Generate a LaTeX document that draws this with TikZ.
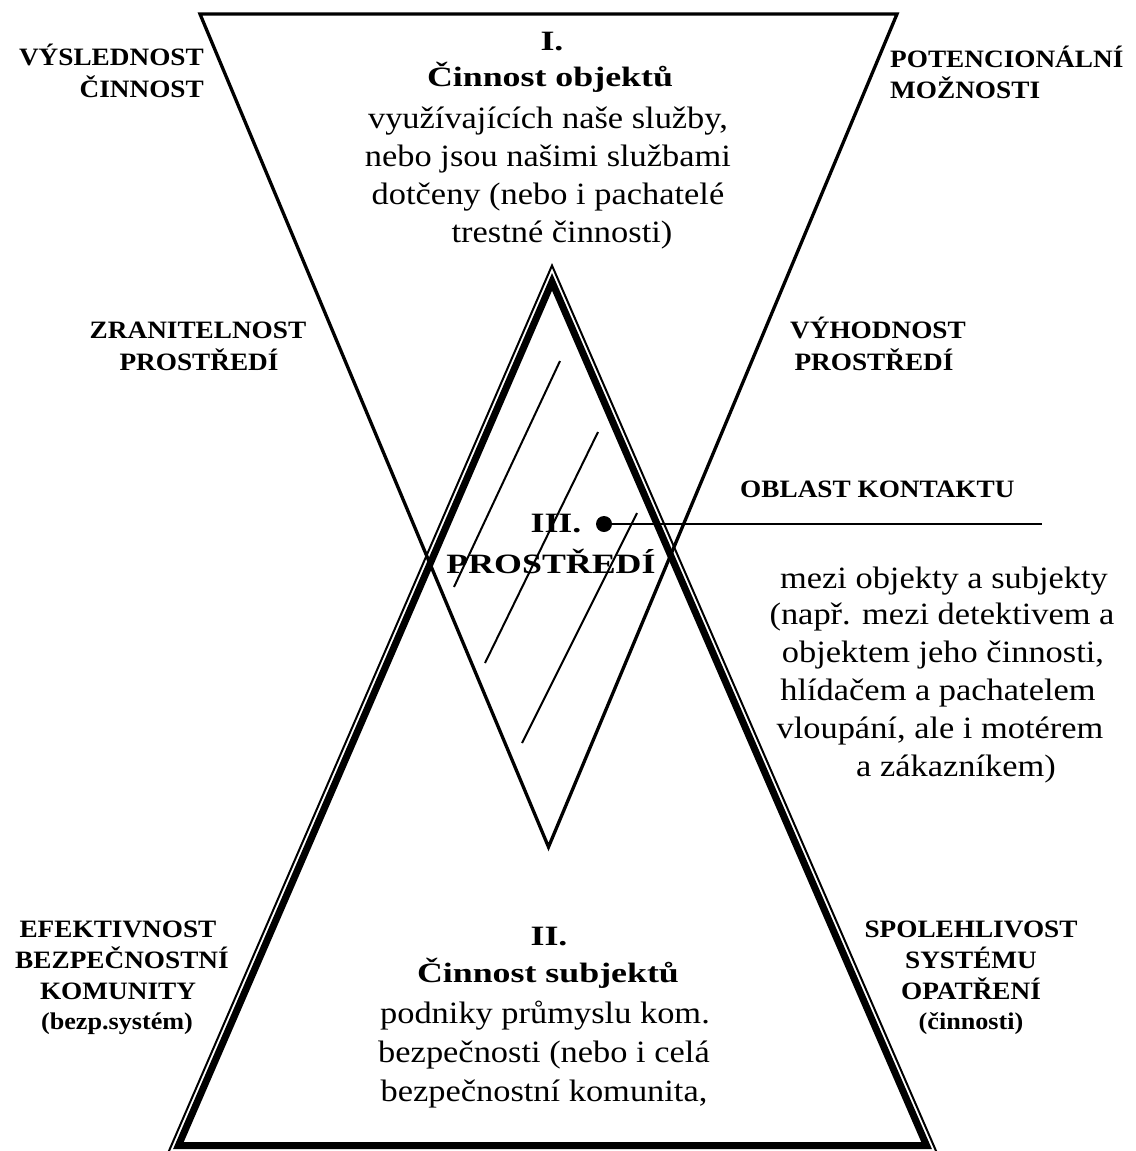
\documentclass[tikz,border=0pt]{standalone}
\usepackage{fontspec}
\setmainfont{Liberation Serif}
\newfontfamily\bodyfont[FakeStretch=1.11]{Liberation Serif}
\newfontfamily\headfont[FakeStretch=1.28]{Liberation Serif}
\newfontfamily\sidefont[FakeStretch=1.09]{Liberation Serif}
\usetikzlibrary{calc}
\begin{document}
\begin{tikzpicture}[x=1pt,y=-1pt,
  body/.style={inner sep=0pt, anchor=base, font=\bodyfont\fontsize{31}{36}\selectfont},
  head/.style={inner sep=0pt, anchor=base, font=\headfont\bfseries\fontsize{28}{32}\selectfont},
  side/.style={inner sep=0pt, anchor=base, font=\sidefont\bfseries\fontsize{25}{31}\selectfont},
  sidesmall/.style={side, font=\sidefont\bfseries\fontsize{24}{28}\selectfont},
  edge/.style={line width=3.3pt, line join=miter},
  hatch/.style={line width=2pt},
]
\useasboundingbox (0,0) rectangle (1135,1151);

% upper (inverted) triangle: objects
\coordinate (TL) at (200,14);
\coordinate (TR) at (897,14);
\coordinate (TB) at (548.5,847);
\draw[edge] (TL) -- (TR) -- (TB) -- cycle;

% lower triangle: subjects, drawn with a thin outer and a thick inner line
\coordinate (A) at (552,263);
\coordinate (B) at (167,1153);
\coordinate (C) at (938,1153);
\coordinate (I) at (552.5,899.9);
\draw[line width=2pt, line join=miter]
  ($(I)!0.99605!(A)$) -- ($(I)!0.99605!(B)$) -- ($(I)!0.99605!(C)$) -- cycle;
\draw[line width=7pt, line join=miter]
  ($(I)!0.97037!(A)$) -- ($(I)!0.97037!(B)$) -- ($(I)!0.97037!(C)$) -- cycle;

% hatching of the overlap (environment)
\draw[hatch] (560,361) -- (454,587);
\draw[hatch] (598,432) -- (485,663);
\draw[hatch] (637,513) -- (522,743);

% contact point and its pointer line
\node[circle, fill, inner sep=0pt, minimum size=16pt] (dot) at (604,524) {};
\coordinate (kend) at (1042,524);
\draw[line width=2.5pt] (dot.center) -- (kend);

% I. objects
\node[head] (n1) at (552,50) {I.};
\node[head] (n2) at (550,86) {Činnost objektů};
\node[body] (n3) at (548,128) {využívajících naše služby,};
\node[body] (n4) at (548,166) {nebo jsou našimi službami};
\node[body] (n5) at (548,204) {dotčeny (nebo i pachatelé};
\node[body] (n6) at (562,242) {trestné činnosti)};

% III. environment
\node[head] (c1) at (556,532) {III.};
\node[head] (c2) at (551,573) {PROSTŘEDÍ};

% contact description
\node[side, anchor=base west] (k0) at (740,497) {OBLAST KONTAKTU};
\node[body] (r1) at (944,588) {mezi objekty a subjekty};
\node[body] (r2) at (942,624) {(např. mezi detektivem a};
\node[body] (r3) at (943,662) {objektem jeho činnosti,};
\node[body] (r4) at (938,700) {hlídačem a pachatelem};
\node[body] (r5) at (940,738) {vloupání, ale i motérem};
\node[body] (r6) at (956,776) {a zákazníkem)};

% II. subjects
\node[head] (s1) at (549,945) {II.};
\node[head] (s2) at (548,982) {Činnost subjektů};
\node[body] (s3) at (545,1023) {podniky průmyslu kom.};
\node[body] (s4) at (544,1062) {bezpečnosti (nebo i celá};
\node[body] (s5) at (544,1101) {bezpečnostní komunita,};

% side labels
\node[side, anchor=base east] (l1) at (204,65) {VÝSLEDNOST};
\node[side, anchor=base east] (l2) at (204,97) {ČINNOST};
\node[side, anchor=base west] (p1) at (890,67) {POTENCIONÁLNÍ};
\node[side, anchor=base west] (p2) at (890,98) {MOŽNOSTI};
\node[side] (z1) at (198,338) {ZRANITELNOST};
\node[side] (z2) at (199,370) {PROSTŘEDÍ};
\node[side] (v1) at (878,338) {VÝHODNOST};
\node[side] (v2) at (874,370) {PROSTŘEDÍ};
\node[side] (e1) at (118,937) {EFEKTIVNOST};
\node[side] (e2) at (122,968) {BEZPEČNOSTNÍ};
\node[side] (e3) at (118,999) {KOMUNITY};
\node[sidesmall] (e4) at (117,1029) {(bezp.systém)};
\node[side] (o1) at (971,937) {SPOLEHLIVOST};
\node[side] (o2) at (971,968) {SYSTÉMU};
\node[side] (o3) at (971,999) {OPATŘENÍ};
\node[sidesmall] (o4) at (971,1029) {(činnosti)};
\end{tikzpicture}
\end{document}
